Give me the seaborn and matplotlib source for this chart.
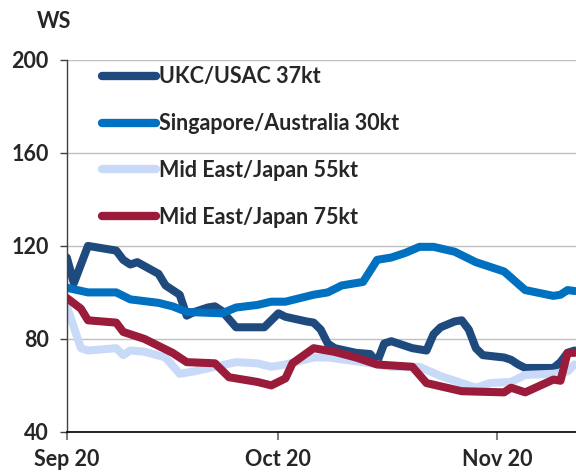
import pandas as pd
import numpy as np
import seaborn as sns
import matplotlib.pyplot as plt
import matplotlib.dates as mdates

start = pd.Timestamp('2020-09-20')

# day offsets from Sep 20 and WS values
ukc_days = [0, 1, 3, 7, 8, 9, 10, 13, 14, 15, 16, 17, 18, 20, 21, 22, 24, 28, 29, 30, 31,
            34, 35, 36, 37, 38, 41, 43, 44, 45, 46, 49, 51, 52, 53, 55, 56, 57, 58, 59,
            62, 63, 64, 65, 69, 70, 71, 72]
ukc_ws = [115, 104, 120, 118, 114, 112, 113, 108, 103, 101, 99, 90, 91.5, 93.5, 94, 92, 85, 85, 88, 91, 89.5,
          87.5, 87, 84, 78, 76, 74, 73.5, 70, 78, 79, 76, 75, 82, 85, 87.5, 88, 84, 76, 73,
          72, 71, 69, 67.5, 67.5, 70, 74, 75]

sing_days = [0, 3, 7, 9, 13, 15, 17, 22, 24, 27, 29, 31, 35, 37, 39, 42, 44, 46, 48, 50,
             52, 55, 58, 62, 65, 69, 70, 71, 72]
sing_ws = [102, 100, 100, 97, 95.5, 94, 91.6, 91, 93.5, 94.6, 96, 96, 99, 100, 103, 104.5, 114, 115, 117, 119.6,
           119.6, 117.5, 113, 109, 101, 98.5, 99, 101, 100.6]

me55_days = [0, 1, 2, 3, 7, 8, 9, 11, 14, 16, 18, 21, 24, 27, 29, 31, 35, 37, 42, 46,
             50, 53, 58, 60, 63, 65, 69, 71, 72]
me55_ws = [94, 85, 76, 75, 76, 73, 75, 74.5, 72, 65, 66, 68, 70, 69.5, 68, 69, 72, 72, 70, 68,
           68, 64, 59, 61, 61.5, 64.5, 65, 66, 69]

me75_days = [0, 2, 3, 7, 8, 11, 13, 15, 17, 21, 23, 27, 29, 31, 32, 35, 38, 41, 44, 49,
             51, 56, 62, 63, 65, 69, 70, 71, 72]
me75_ws = [97.6, 93, 88, 87, 83, 80, 77, 74, 70, 69.5, 63.5, 61.5, 60, 63, 69.5, 76, 74.4, 72, 69, 68,
           61, 57.5, 57, 59, 57, 62.5, 62, 74, 74]

labels = ['UKC/USAC 37kt', 'Singapore/Australia 30kt', 'Mid East/Japan 55kt', 'Mid East/Japan 75kt']
colors = ['#1F4A7E', '#0070C0', '#C9DAF8', '#9B1B3A']
series = [(ukc_days, ukc_ws), (sing_days, sing_ws), (me55_days, me55_ws), (me75_days, me75_ws)]

sns.set_style('white')
plt.rcParams['font.family'] = ['Lato', 'DejaVu Sans']
plt.rcParams['font.weight'] = 'bold'

fs = 15.5
fig = plt.figure(figsize=(5.76, 4.72), dpi=100)
ax = fig.add_axes([0.116, 0.085, 0.884, 0.788])

for (d, v), lab, col in zip(series, labels, colors):
    df = pd.DataFrame({'date': start + pd.to_timedelta(d, unit='D'), 'ws': v})
    sns.lineplot(data=df, x='date', y='ws', ax=ax, color=col, linewidth=5.8, label=lab,
                 solid_capstyle='round', solid_joinstyle='round')

ax.set_ylim(40, 200)
ax.set_yticks([40, 80, 120, 160, 200])
ax.set_xlim(start, start + pd.Timedelta(days=72.2))
ax.set_xticks([pd.Timestamp('2020-09-20'), pd.Timestamp('2020-10-20'), pd.Timestamp('2020-11-20')])
ax.xaxis.set_major_formatter(mdates.DateFormatter('%b %d'))
ax.set_xlabel('')
ax.set_ylabel('')
ax.yaxis.grid(True, color='#BFBFBF', linewidth=1)
ax.set_axisbelow(True)

for s in ['top', 'right']:
    ax.spines[s].set_visible(False)
ax.spines['left'].set_color('#404040')
ax.spines['bottom'].set_color('black')
ax.spines['left'].set_linewidth(1)
ax.spines['bottom'].set_linewidth(1.2)

ax.tick_params(axis='y', left=True, length=5, width=1, color='#404040', labelsize=fs, pad=8)
ax.tick_params(axis='x', bottom=True, length=6, width=1.5, color='#808080', labelsize=fs, pad=6)
for t in ax.get_xticklabels() + ax.get_yticklabels():
    t.set_fontweight('bold')

leg = ax.legend(loc='upper left', bbox_to_anchor=(0.045, 1.015), frameon=False, fontsize=fs,
                handlelength=2.55, handletextpad=0.1, labelspacing=1.2, borderaxespad=0.15)
for t in leg.get_texts():
    t.set_fontweight('bold')
for h in leg.legend_handles:
    h.set_linewidth(6)

fig.text(0.064, 0.955, 'WS', fontsize=fs, fontweight='bold', ha='left', va='center')

fig.savefig('out.png', dpi=100)
